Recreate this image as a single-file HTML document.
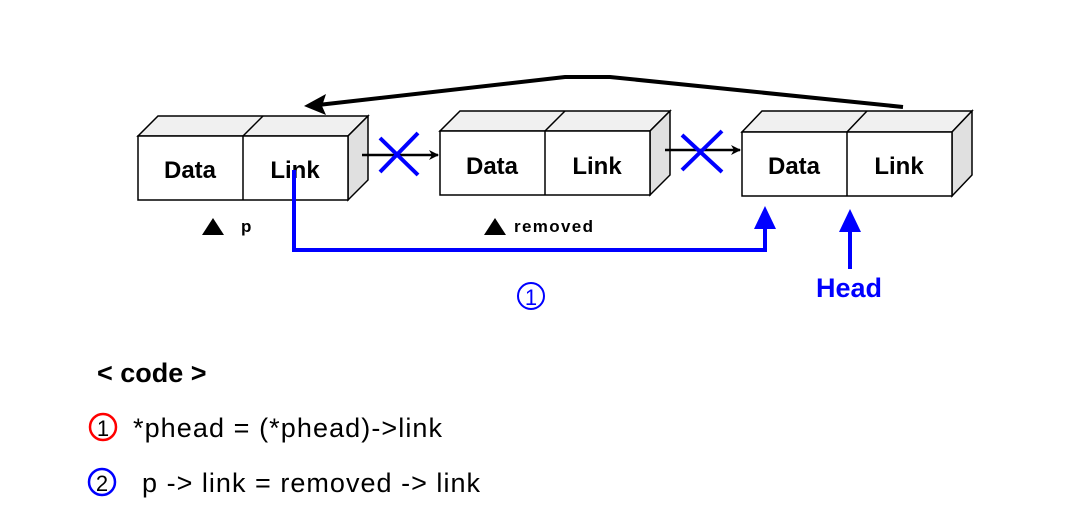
<!DOCTYPE html>
<html><head><meta charset="utf-8"><style>
html,body{margin:0;padding:0;background:#fff;}
svg{display:block;}
text{font-family:"Liberation Sans",Arial,sans-serif;}
</style></head><body>
<svg width="1091" height="522" viewBox="0 0 1091 522" xmlns="http://www.w3.org/2000/svg">
<defs>
<marker id="ab" markerWidth="10" markerHeight="10" refX="9" refY="5" orient="auto" markerUnits="userSpaceOnUse"><path d="M0,0 L10,5 L0,10 L3,5 Z" fill="#000"/></marker>
</defs>
<g stroke="#000" stroke-width="1.5">
<polygon points="138,136 158,116 368,116 348,136" fill="#f0f0f0"/>
<polygon points="348,136 368,116 368,180 348,200" fill="#e0e0e0"/>
<rect x="138" y="136" width="210" height="64" fill="#fff"/>
<line x1="243" y1="136" x2="243" y2="200"/><line x1="243" y1="136" x2="263" y2="116"/>
<polygon points="440,131 460,111 670,111 650,131" fill="#f0f0f0"/>
<polygon points="650,131 670,111 670,175 650,195" fill="#e0e0e0"/>
<rect x="440" y="131" width="210" height="64" fill="#fff"/>
<line x1="545" y1="131" x2="545" y2="195"/><line x1="545" y1="131" x2="565" y2="111"/>
<polygon points="742,132 762,111 972,111 952,132" fill="#f0f0f0"/>
<polygon points="952,132 972,111 972,175 952,196" fill="#e0e0e0"/>
<rect x="742" y="132" width="210" height="64" fill="#fff"/>
<line x1="847" y1="132" x2="847" y2="196"/><line x1="847" y1="132" x2="867" y2="111"/>
</g>
<g font-weight="bold" font-size="24" text-anchor="middle" fill="#000">
<text x="190" y="178">Data</text><text x="295" y="178">Link</text>
<text x="492" y="174">Data</text><text x="597" y="174">Link</text>
<text x="794" y="174">Data</text><text x="899" y="174">Link</text>
</g>
<line x1="362" y1="155" x2="438" y2="155" stroke="#000" stroke-width="2.5" marker-end="url(#ab)"/>
<line x1="665" y1="150" x2="740" y2="150" stroke="#000" stroke-width="2.5" marker-end="url(#ab)"/>
<g stroke="#0000ff" stroke-width="4">
<line x1="380" y1="138" x2="418" y2="175"/><line x1="418" y1="133" x2="380" y2="172"/>
<line x1="682" y1="135" x2="722" y2="172"/><line x1="722" y1="131" x2="682" y2="170"/>
</g>
<polyline points="903,107 610,77 565,77 318,105" fill="none" stroke="#000" stroke-width="4"/>
<path d="M304,106 L326,94 L322,106 L326,115 Z" fill="#000"/>
<polyline points="294,170 294,250 765,250 765,222" fill="none" stroke="#0000ff" stroke-width="4"/>
<path d="M765,206 L776,229 L754,229 Z" fill="#0000ff"/>
<line x1="850" y1="269" x2="850" y2="224" stroke="#0000ff" stroke-width="4"/>
<path d="M850,209 L861,232 L839,232 Z" fill="#0000ff"/>
<text x="849" y="297" font-size="27" font-weight="bold" fill="#0000ff" text-anchor="middle">Head</text>
<path d="M202,235 L213,218 L224,235 Z" fill="#000"/>
<text x="241" y="232" font-size="17" font-weight="bold">p</text>
<path d="M484,235 L495,218 L506,235 Z" fill="#000"/>
<text x="514" y="232" font-size="17" font-weight="bold" textLength="79">removed</text>
<circle cx="531" cy="296" r="13" fill="none" stroke="#0000ff" stroke-width="2"/>
<text x="531" y="305" font-size="22" fill="#0000ff" text-anchor="middle">1</text>
<text x="97" y="382" font-size="27" font-weight="bold">&lt; code &gt;</text>
<circle cx="103" cy="427" r="13" fill="none" stroke="#ff0000" stroke-width="2.5"/>
<text x="103" y="436" font-size="22" text-anchor="middle">1</text>
<text x="133" y="437" font-size="27" textLength="309">*phead = (*phead)-&gt;link</text>
<circle cx="102" cy="482" r="13" fill="none" stroke="#0000ff" stroke-width="2.5"/>
<text x="102" y="491" font-size="22" text-anchor="middle">2</text>
<text x="142" y="492" font-size="27" textLength="338">p -&gt; link = removed -&gt; link</text>
</svg>
</body></html>
